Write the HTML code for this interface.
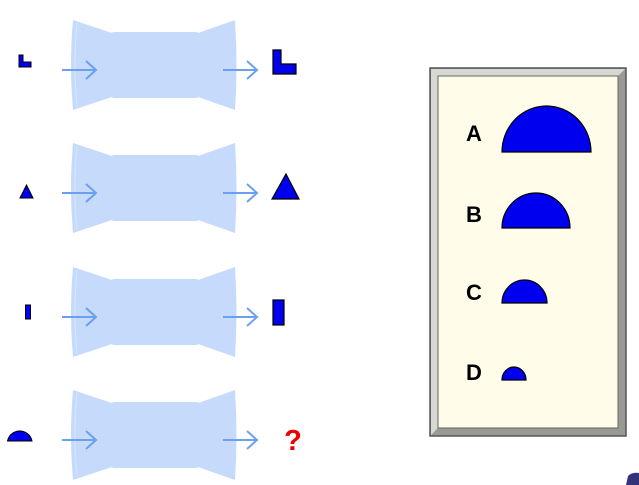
<!DOCTYPE html>
<html><head><meta charset="utf-8"><style>
html,body{margin:0;padding:0;background:#fff;width:639px;height:485px;overflow:hidden}
svg{display:block;font-family:"Liberation Sans",sans-serif}
</style></head><body>
<svg width="639" height="485" viewBox="0 0 639 485">
<defs>
<g id="machine">
  <path d="M73,-45 Q69,0 73,45 L112,32 L112,-32 Z" fill="#c6dbfb"/>
  <path d="M77,-42 Q73,0 77,42" fill="none" stroke="#d9e7fc" stroke-width="1"/>
  <rect x="111" y="-33" width="88" height="66" rx="3" fill="#c6dbfb"/>
  <path d="M198,-32 L235,-45 Q238,0 235,45 L198,32 Z" fill="#c6dbfb"/>
  <g stroke="#6b9ff0" stroke-width="2" fill="none">
    <path d="M62,5 H95 M86,-4 L96,5 L86,14"/>
    <path d="M223,5 H256 M247,-4 L257,5 L247,14"/>
  </g>
</g>
</defs>

<g transform="translate(0,65)">
  <use href="#machine"/>
  <path d="M19,-10 H23 V-3 H31 V2 H19 Z" fill="#0000ee" stroke="#000" stroke-width="1"/>
  <path d="M273,-15 H281 V-1 H296 V9 H273 Z" fill="#0000ee" stroke="#000" stroke-width="1.2"/>
</g>
<g transform="translate(0,188)">
  <use href="#machine"/>
  <path d="M20,10 L26.5,-3 L33,10 Z" fill="#0000ee" stroke="#000" stroke-width="1"/>
  <path d="M272,11 L286,-14 L299,11 Z" fill="#0000ee" stroke="#000" stroke-width="1.2"/>
</g>
<g transform="translate(0,312)">
  <use href="#machine"/>
  <rect x="25.5" y="-7" width="5" height="14" fill="#0000ee" stroke="#000" stroke-width="1"/>
  <rect x="273" y="-12" width="11" height="25" fill="#0000ee" stroke="#000" stroke-width="1.2"/>
</g>
<g transform="translate(0,435)">
  <use href="#machine"/>
  <path d="M7.5,6 A12.5,12.5 0 0 1 32,6 Z" fill="#0000ee" stroke="#000" stroke-width="1"/>
  <text x="293" y="15" font-size="29" font-weight="bold" fill="#ee0000" text-anchor="middle">?</text>
</g>

<g>
  <rect x="430" y="68" width="196" height="368" fill="#9a9a94" stroke="#555" stroke-width="1.5"/>
  <path d="M431,69 H625 L618,76 H438 V428 L431,435 Z" fill="#d8d8d2"/>
  <rect x="438" y="76" width="180" height="352" fill="#fffde9" stroke="#666" stroke-width="1"/>
  <g font-size="22" font-weight="bold" fill="#000" font-family="'Liberation Sans',sans-serif">
    <text x="466" y="141">A</text>
    <text x="466" y="222">B</text>
    <text x="466" y="300">C</text>
    <text x="466" y="380">D</text>
  </g>
  <g fill="#0000ee" stroke="#000" stroke-width="1.2">
    <path d="M502,152 A44.5,46 0 0 1 591,152 Z"/>
    <path d="M502,228 A34,35 0 0 1 570,228 Z"/>
    <path d="M502,303 A22.5,23 0 0 1 547,303 Z"/>
    <path d="M502,380 A12,13 0 0 1 526,380 Z"/>
  </g>
</g>
<path d="M626,485 L628,476 Q632,472 639,473 V485 Z" fill="#33337a"/>
</svg>
</body></html>
